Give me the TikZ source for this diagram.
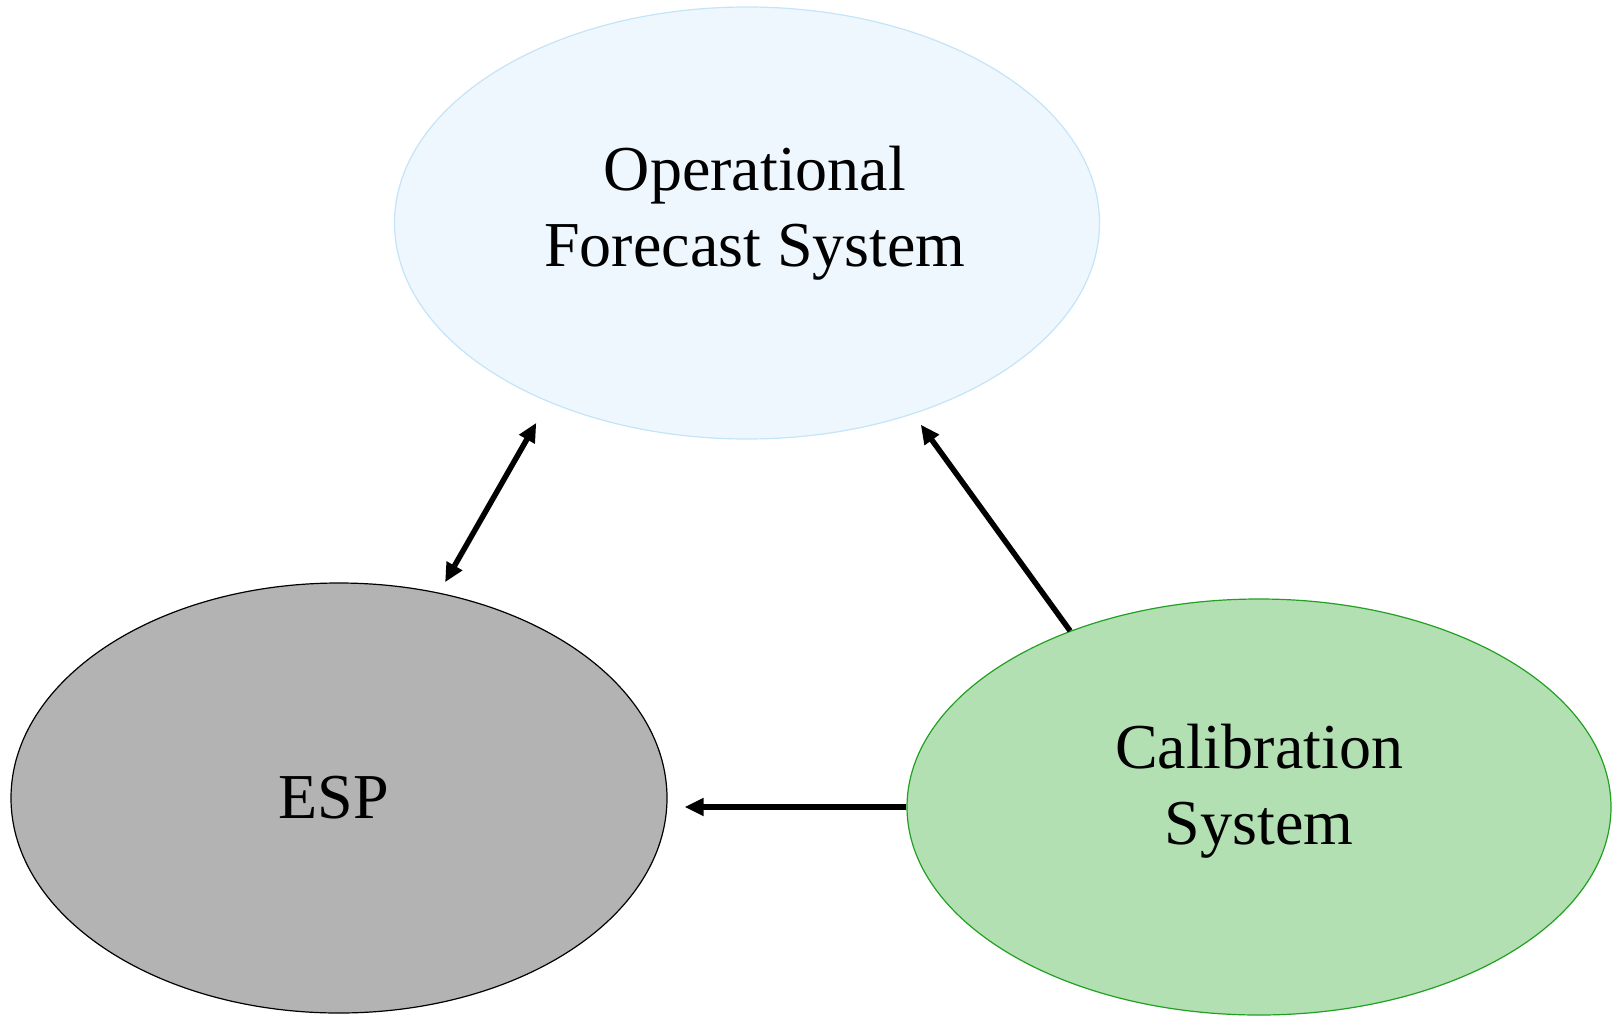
\documentclass[tikz,border=0pt]{standalone}
\usepackage{fontspec}
\setmainfont{Liberation Serif}
\usetikzlibrary{shapes.geometric,arrows.meta}

\definecolor{ofsfill}{RGB}{239,247,254}
\definecolor{ofsline}{RGB}{196,228,247}
\definecolor{espfill}{RGB}{179,179,179}
\definecolor{calfill}{RGB}{178,224,178}
\definecolor{calline}{RGB}{34,160,34}

\begin{document}
\begin{tikzpicture}[x=1pt,y=-1pt,>={Triangle[length=19pt,width=17pt]}]
  \useasboundingbox (0,0) rectangle (1612,1015);

  % the three systems
  \begin{scope}[every node/.style={ellipse,inner sep=0pt,line width=1.2pt}]
    \node[draw=ofsline,fill=ofsfill,minimum width=705pt,minimum height=432pt] (ofs) at (747,223) {};
    \node[draw=black,fill=espfill,minimum width=656pt,minimum height=430pt] (esp) at (339,798) {};
    \node[draw=calline,fill=calfill,minimum width=704pt,minimum height=416pt] (cal) at (1259,807) {};
  \end{scope}

  \begin{scope}[every node/.style={align=center,font=\fontsize{64}{76}\selectfont}]
    \node (ofs-text) at ([shift={(8,-10)}]ofs.center) {Operational\\Forecast System};
    \node (esp-text) at ([shift={(-5,0)}]esp.center) {ESP};
    \node (cal-text) at ([shift={(0,-16)}]cal.center) {Calibration\\System};
  \end{scope}

  \begin{scope}[every edge/.style={draw,line width=5.5pt}]
    \path (esp.64)    edge[<->,shorten <=12pt,shorten >=24pt] (ofs.222.5);
    \path (cal.137.7) edge[->,shorten >=13pt] (ofs.311.5);
    \path (cal.west)  edge[->,shorten >=17pt] (esp.east |- cal.west);
  \end{scope}

\end{tikzpicture}
\end{document}
